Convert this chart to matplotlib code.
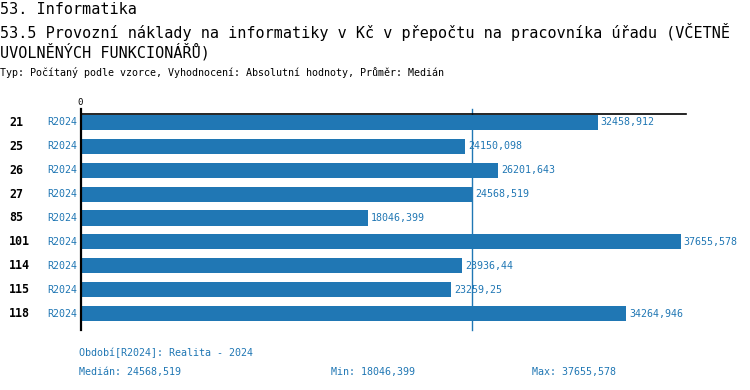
import matplotlib.pyplot as plt
from matplotlib import transforms

# data
codes = ['21', '25', '26', '27', '85', '101', '114', '115', '118']
periods = ['R2024'] * 9
values = [32458.912, 24150.098, 26201.643, 24568.519, 18046.399,
          37655.578, 23936.44, 23259.25, 34264.946]
value_labels = ['32458,912', '24150,098', '26201,643', '24568,519', '18046,399',
                '37655,578', '23936,44', '23259,25', '34264,946']
median = 24568.519
median_txt = '24568,519'
min_txt = '18046,399'
max_txt = '37655,578'

blue = '#2077b4'
mono = 'DejaVu Sans Mono'

W, H = 750, 390
fig = plt.figure(figsize=(W / 100, H / 100), dpi=100)

# axes placement in pixels (left, top, right, bottom)
ax_l, ax_t, ax_r, ax_b = 80.5, 114.3, 686, 330
ax = fig.add_axes([ax_l / W, 1 - ax_b / H, (ax_r - ax_l) / W, (ax_b - ax_t) / H])

row = 23.9
y_top = -8.0 / row
y_bot = len(codes) - 1 + 16.3 / row
ax.set_xlim(0, 38000)
ax.set_ylim(y_bot, y_top)

ypos = list(range(len(codes)))
ax.barh(ypos, values, height=15 / row, color=blue, zorder=2)

for s in ['right', 'bottom', 'left']:
    ax.spines[s].set_visible(False)
ax.spines['top'].set_linewidth(1.2)
ax.spines['top'].set_color('black')
ax.set_xticks([])
ax.set_yticks([])

# vertical zero axis, sticking a little above the top line
ext = 5.5 / row
ax.plot([0, 0], [y_bot, y_top - ext], color='black', lw=1.6, clip_on=False, zorder=3)
ax.plot([median, median], [y_bot, y_top - ext], color=blue, lw=1, clip_on=False, zorder=1)
ax.text(0, y_top - ext - 2 / row, '0', family=mono, fontsize=6.5, ha='center', va='bottom')

px = 38000 / (ax_r - ax_l)
for y, v, t in zip(ypos, values, value_labels):
    ax.text(v + 3 * px, y, t, family=mono, fontsize=7.2, color=blue, va='center', ha='left')

tr = transforms.blended_transform_factory(fig.transFigure, ax.transData)
for y, c, p in zip(ypos, codes, periods):
    ax.text(9 / W, y, c, transform=tr, family=mono, fontsize=8.4, fontweight='bold',
            ha='left', va='center')
    ax.text(77 / W, y, p, transform=tr, family=mono, fontsize=7.2, color=blue,
            ha='right', va='center')

# header
fig.text(0, 1 - 10 / H, '53. Informatika', family=mono, fontsize=10.9, va='center')
fig.text(0, 1 - 32 / H,
         '53.5 Provozní náklady na informatiky v Kč v přepočtu na pracovníka úřadu (VČETNĚ',
         family=mono, fontsize=10.9, va='center')
fig.text(0, 1 - 52 / H, 'UVOLNĚNÝCH FUNKCIONÁŘŮ)', family=mono, fontsize=10.9, va='center')
fig.text(0, 1 - 73 / H,
         'Typ: Počítaný podle vzorce, Vyhodnocení: Absolutní hodnoty, Průměr: Medián',
         family=mono, fontsize=7.2, va='center')

# footer
fig.text(79 / W, 1 - 353 / H, 'Období[R2024]: Realita - 2024', family=mono, fontsize=7.2,
         color=blue, va='center')
fig.text(79 / W, 1 - 372 / H, 'Medián: ' + median_txt, family=mono, fontsize=7.2,
         color=blue, va='center')
fig.text(331 / W, 1 - 372 / H, 'Min: ' + min_txt, family=mono, fontsize=7.2,
         color=blue, va='center')
fig.text(532 / W, 1 - 372 / H, 'Max: ' + max_txt, family=mono, fontsize=7.2,
         color=blue, va='center')

fig.savefig('out.png', dpi=100)
